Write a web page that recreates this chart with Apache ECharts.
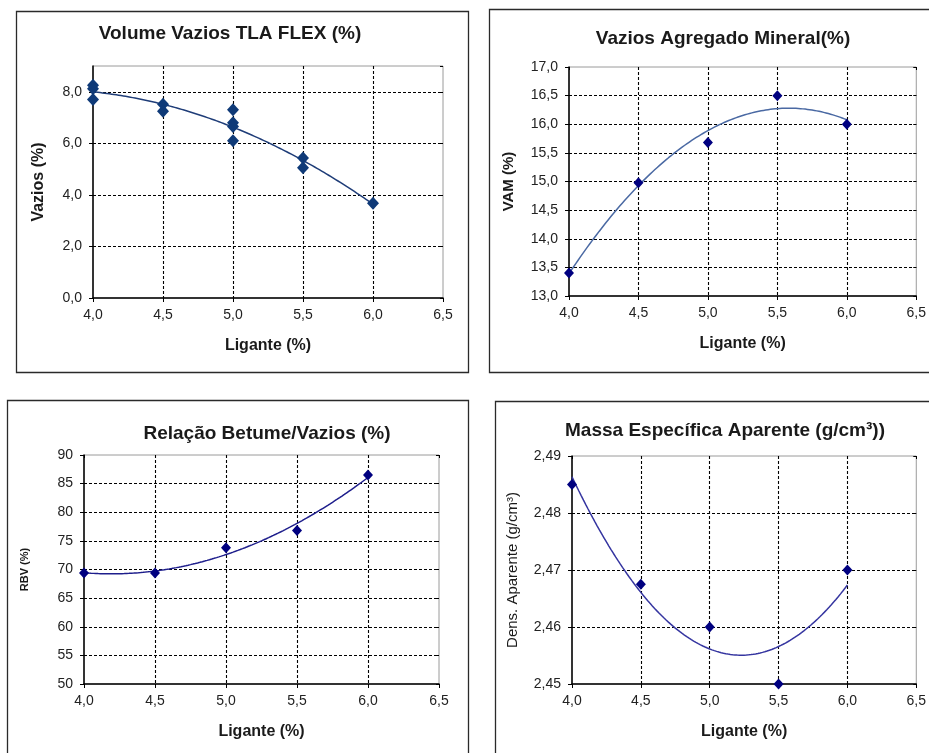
<!DOCTYPE html>
<html>
<head>
<meta charset="utf-8">
<script src="https://cdn.jsdelivr.net/npm/echarts@6/dist/echarts.min.js"></script>
<style>
  html, body { margin: 0; padding: 0; background: #fff; }
  #chart { width: 929px; height: 753px; }
</style>
</head>
<body>
<div id="chart"></div>
<script>
// Ligante (binder content, %) used for the mix designs
const ligante = [4.0, 4.5, 5.0, 5.5, 6.0];

// Volume de vazios: several specimens per binder content
const vaziosX = [4.0, 4.0, 4.0, 4.5, 4.5, 5.0, 5.0, 5.0, 5.0, 5.5, 5.5, 6.0];
const vaziosY = [8.25, 8.12, 7.7, 7.52, 7.24, 7.3, 6.8, 6.65, 6.1, 5.43, 5.05, 3.68];

// Vazios do agregado mineral (%)
const vam = [13.4, 14.98, 15.68, 16.5, 16.0];

// Relação betume/vazios (%)
const rbv = [69.4, 69.4, 73.8, 76.8, 86.5];

// Massa específica aparente (g/cm³)
const dens = [2.485, 2.4675, 2.46, 2.45, 2.47];

const FONT = "'Liberation Sans', Arial, sans-serif";

// Least-squares polynomial (Excel-style trendline)
function polyFit(xs, ys, order) {
  const n = order + 1;
  const A = [];
  for (let r = 0; r < n; r++) {
    const row = [];
    for (let c = 0; c < n; c++) {
      let s = 0;
      for (let i = 0; i < xs.length; i++) s += Math.pow(xs[i], r + c);
      row.push(s);
    }
    let b = 0;
    for (let i = 0; i < xs.length; i++) b += ys[i] * Math.pow(xs[i], r);
    row.push(b);
    A.push(row);
  }
  for (let p = 0; p < n; p++) {
    let max = p;
    for (let r = p + 1; r < n; r++) if (Math.abs(A[r][p]) > Math.abs(A[max][p])) max = r;
    [A[p], A[max]] = [A[max], A[p]];
    for (let r = p + 1; r < n; r++) {
      const f = A[r][p] / A[p][p];
      for (let c = p; c <= n; c++) A[r][c] -= f * A[p][c];
    }
  }
  const coef = new Array(n).fill(0);
  for (let r = n - 1; r >= 0; r--) {
    let s = A[r][n];
    for (let c = r + 1; c < n; c++) s -= A[r][c] * coef[c];
    coef[r] = s / A[r][r];
  }
  return coef;
}

function trendPoints(xs, ys) {
  const c = polyFit(xs, ys, 2);
  const x0 = Math.min(...xs), x1 = Math.max(...xs);
  const pts = [];
  const steps = 120;
  for (let i = 0; i <= steps; i++) {
    const x = x0 + (x1 - x0) * i / steps;
    pts.push([x, c[0] + c[1] * x + c[2] * x * x]);
  }
  return pts;
}

function pairs(xs, ys) { return xs.map((x, i) => [x, ys[i]]); }

function fmt(dec) {
  return v => dec === 0 ? String(Math.round(v)) : v.toFixed(dec).replace('.', ',');
}

const panels = [
  {
    title: 'Volume Vazios TLA FLEX (%)', titleX: 230, titleY: 24,
    yName: 'Vazios (%)', yNameSize: 16, yNameBold: true, yNameGap: 46,
    xs: vaziosX, ys: vaziosY, yMin: 0, yMax: 9, yStep: 2, dec: 1,
    grid: { left: 93, top: 66, width: 350, height: 232 },
    box: [16, 11, 452, 361],
    marker: '#0f3a78', markerSize: 12, line: '#1f3d78'
  },
  {
    title: 'Vazios Agregado Mineral(%)', titleX: 723, titleY: 29,
    yName: 'VAM (%)', yNameSize: 15, yNameBold: true, yNameGap: 53,
    xs: ligante, ys: vam, yMin: 13, yMax: 17, yStep: 0.5, dec: 1,
    grid: { left: 569, top: 67, width: 348, height: 229 },
    box: [489, 9, 460, 363],
    marker: '#000080', markerSize: 10, line: '#4a69a3'
  },
  {
    title: 'Relação Betume/Vazios (%)', titleX: 267, titleY: 424,
    yName: 'RBV (%)', yNameSize: 11, yNameBold: true, yNameGap: 54,
    xs: ligante, ys: rbv, yMin: 50, yMax: 90, yStep: 5, dec: 0,
    grid: { left: 84, top: 455, width: 355, height: 229 },
    box: [7, 400, 461, 370],
    marker: '#000080', markerSize: 10, line: '#1e1e8c'
  },
  {
    title: 'Massa Específica Aparente (g/cm³))', titleX: 725, titleY: 421,
    yName: 'Dens. Aparente (g/cm³)', yNameSize: 15, yNameBold: false, yNameGap: 52,
    xs: ligante, ys: dens, yMin: 2.45, yMax: 2.49, yStep: 0.01, dec: 2,
    grid: { left: 572, top: 456, width: 345, height: 228 },
    box: [495, 401, 460, 370],
    marker: '#000080', markerSize: 10, line: '#3535a0'
  }
];

const dashed = { color: '#000', type: [3, 2], width: 1.1 };
const labelStyle = { color: '#222', fontSize: 14, fontFamily: FONT };

const option = {
  animation: false,
  backgroundColor: '#fff',
  title: [], grid: [], xAxis: [], yAxis: [], series: [], graphic: []
};

panels.forEach((p, i) => {
  option.title.push({
    text: p.title, left: p.titleX, top: p.titleY, textAlign: 'center', padding: 0,
    textStyle: { fontFamily: FONT, fontSize: 19, fontWeight: 'bold', color: '#1a1a1a' }
  });
  option.grid.push(Object.assign({ show: true, borderColor: '#9a9a9a', borderWidth: 1 }, p.grid));

  // main x axis with labels, outward ticks and vertical grid lines
  option.xAxis.push({
    type: 'value', gridIndex: i, min: 4, max: 6.5, interval: 0.5,
    axisLine: { show: true, onZero: false, lineStyle: { color: '#000', width: 1.5 } },
    axisTick: { show: true, length: 4, lineStyle: { color: '#000' } },
    axisLabel: Object.assign({ formatter: fmt(1), margin: 10 }, labelStyle),
    splitLine: { show: true, showMinLine: false, showMaxLine: false, lineStyle: dashed },
    name: 'Ligante (%)', nameLocation: 'middle', nameGap: 40,
    nameTextStyle: { fontFamily: FONT, fontSize: 16, fontWeight: 'bold', color: '#1a1a1a' }
  });
  // companion x axis: inner half of the crossing ticks
  option.xAxis.push({
    type: 'value', gridIndex: i, min: 4, max: 6.5, interval: 0.5,
    axisLine: { show: false }, axisLabel: { show: false }, splitLine: { show: false },
    axisTick: { show: true, inside: true, length: 3, lineStyle: { color: '#000' } }
  });

  const maxOnStep = Math.abs(p.yMax / p.yStep - Math.round(p.yMax / p.yStep)) < 1e-6;
  option.yAxis.push({
    type: 'value', gridIndex: i, min: p.yMin, max: p.yMax, interval: p.yStep,
    axisLine: { show: true, onZero: false, lineStyle: { color: '#000', width: 1.5 } },
    axisTick: { show: true, length: 4, lineStyle: { color: '#000' } },
    axisLabel: Object.assign({ formatter: fmt(p.dec), margin: 11, showMaxLabel: maxOnStep }, labelStyle),
    splitLine: { show: true, showMinLine: false, showMaxLine: false, lineStyle: dashed },
    name: p.yName, nameLocation: 'middle', nameGap: p.yNameGap,
    nameTextStyle: { fontFamily: FONT, fontSize: p.yNameSize, fontWeight: p.yNameBold ? 'bold' : 'normal', color: '#1a1a1a' }
  });
  option.yAxis.push({
    type: 'value', gridIndex: i, min: p.yMin, max: p.yMax, interval: p.yStep,
    axisLine: { show: false }, axisLabel: { show: false }, splitLine: { show: false },
    axisTick: { show: true, inside: true, length: 3, lineStyle: { color: '#000' } }
  });

  option.series.push({
    type: 'line', xAxisIndex: 2 * i, yAxisIndex: 2 * i,
    data: trendPoints(p.xs, p.ys), showSymbol: false, smooth: false,
    lineStyle: { color: p.line, width: 1.5 }, z: 3, silent: true
  });
  option.series.push({
    type: 'scatter', xAxisIndex: 2 * i, yAxisIndex: 2 * i,
    data: pairs(p.xs, p.ys), symbol: 'diamond', symbolSize: [p.markerSize, p.markerSize + 1],
    itemStyle: { color: p.marker, opacity: 1 }, z: 4
  });

  option.graphic.push({
    type: 'rect', silent: true, z: -1,
    shape: { x: p.box[0] + 0.5, y: p.box[1] + 0.5, width: p.box[2], height: p.box[3] },
    style: { fill: 'none', stroke: '#2a2a2a', lineWidth: 1.3 }
  });
});

const chart = echarts.init(document.getElementById('chart'), null, { renderer: 'canvas' });
chart.setOption(option);
</script>
</body>
</html>
